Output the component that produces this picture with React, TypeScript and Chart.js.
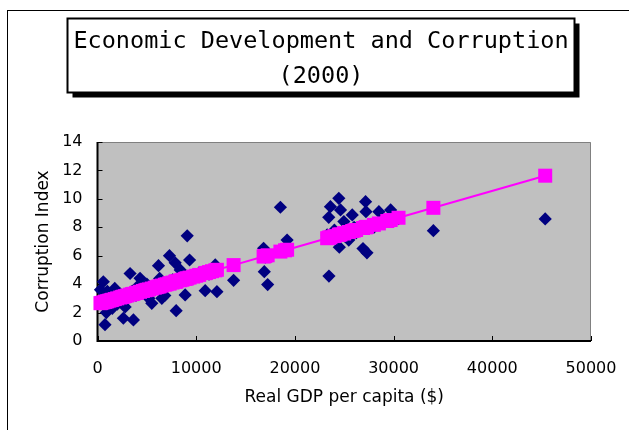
import { useEffect, useRef } from "react";
import { Chart, registerables } from "chart.js";

Chart.register(...registerables);

// Real GDP per capita ($), sorted ascending
const gdp = [
  300, 400, 590, 760, 900, 1000, 1200, 1400, 1500, 1750,
  2000, 2300, 2500, 2620, 2800, 3000, 3300, 3500, 3640, 3900,
  4000, 4310, 4600, 4850, 5000, 5200, 5500, 5800, 6000, 6180,
  6300, 6520, 6820, 7000, 7290, 7300, 7600, 7870, 7970, 8000,
  8380, 8600, 8880, 9000, 9090, 9330, 9700, 10000, 10300, 10910,
  11000, 11300, 11600, 11930, 12100, 13790, 16830, 16900, 17000, 17240,
  18530, 19000, 19210, 23270, 23430, 23450, 23600, 24000, 24450, 24500,
  24620, 24960, 25000, 25460, 25810, 26000, 26200, 26900, 27160, 27200,
  27300, 28000, 28510, 29360, 29700, 30500, 34030, 45360,
];

// Corruption index (observed)
const corruption = [
  3.6, 2.8, 4.17, 1.15, 2.0, 3.5, 3.0, 2.7, 2.3, 3.7,
  2.6, 3.3, 3.0, 1.6, 2.4, 3.1, 4.75, 3.5, 1.48, 3.2,
  3.8, 4.41, 3.5, 3.36, 4.0, 3.0, 2.65, 3.6, 3.9, 5.3,
  4.4, 3.0, 3.2, 4.0, 6.0, 4.1, 4.3, 5.5, 2.13, 4.2,
  5.0, 4.5, 3.24, 4.5, 7.4, 5.7, 4.6, 4.6, 4.8, 3.54,
  4.8, 4.7, 4.9, 5.35, 3.47, 4.27, 6.52, 4.88, 5.9, 3.97,
  9.41, 6.3, 7.1, 7.46, 8.7, 4.57, 9.45, 7.8, 10.04, 6.6,
  9.22, 8.4, 7.4, 7.1, 8.87, 8.0, 7.6, 6.5, 9.8, 9.1,
  6.2, 8.0, 9.1, 8.5, 9.22, 8.6, 7.76, 8.59,
];

// Corruption index (fitted line values)
const fitted = [
  2.66, 2.68, 2.72, 2.75, 2.78, 2.8, 2.84, 2.88, 2.9, 2.95,
  3.0, 3.06, 3.1, 3.12, 3.16, 3.2, 3.26, 3.3, 3.32, 3.38,
  3.4, 3.46, 3.52, 3.57, 3.6, 3.63, 3.69, 3.75, 3.79, 3.83,
  3.85, 3.9, 3.96, 3.99, 4.05, 4.05, 4.11, 4.17, 4.19, 4.19,
  4.27, 4.31, 4.37, 4.39, 4.41, 4.46, 4.53, 4.59, 4.65, 4.77,
  4.79, 4.85, 4.91, 4.97, 5.01, 5.34, 5.95, 5.96, 5.98, 6.03,
  6.29, 6.38, 6.42, 7.23, 7.26, 7.27, 7.3, 7.38, 7.47, 7.48,
  7.5, 7.57, 7.58, 7.67, 7.74, 7.77, 7.81, 7.95, 8.0, 8.01,
  8.03, 8.17, 8.27, 8.44, 8.51, 8.67, 9.37, 11.63,
];

const xTickValues = [0, 10000, 20000, 30000, 40000, 50000];
const xTickLabels = ["0", "10000", "20000", "30000", "40000", "50000"];
const yTickValues = [0, 2, 4, 6, 8, 10, 12, 14];
const yTickLabels = ["0", "2", "4", "6", "8", "10", "12", "14"];

const titleLines = ["Economic Development and Corruption", "(2000)"];
const xAxisTitle = "Real GDP per capita ($)";
const yAxisTitle = "Corruption Index";

const framePlugin = {
  id: "frame",
  beforeDraw(chart: any) {
    const { ctx, width, height, chartArea: a } = chart;
    ctx.save();
    ctx.fillStyle = "#ffffff";
    ctx.fillRect(0, 0, width, height);

    // outer frame
    ctx.strokeStyle = "#000000";
    ctx.lineWidth = 1;
    ctx.strokeRect(7.5, 10.5, width + 20, height + 20);

    // title box with shadow
    const bx = 67.5, by = 18.5, bw = 507, bh = 74;
    ctx.fillStyle = "#000000";
    ctx.fillRect(bx + 5, by + 5, bw, bh);
    ctx.fillStyle = "#ffffff";
    ctx.fillRect(bx, by, bw, bh);
    ctx.strokeStyle = "#000000";
    ctx.lineWidth = 2;
    ctx.strokeRect(bx, by, bw, bh);
    ctx.fillStyle = "#000000";
    ctx.font = "23.5px 'DejaVu Sans Mono'";
    ctx.textAlign = "center";
    ctx.textBaseline = "alphabetic";
    ctx.fillText(titleLines[0], bx + bw / 2, 48);
    ctx.fillText(titleLines[1], bx + bw / 2, 83);

    // plot area
    ctx.fillStyle = "#c0c0c0";
    ctx.fillRect(a.left, a.top, a.right - a.left, a.bottom - a.top);
    ctx.strokeStyle = "#808080";
    ctx.lineWidth = 1;
    ctx.beginPath();
    ctx.moveTo(a.left, a.top + 0.5);
    ctx.lineTo(a.right - 0.5, a.top + 0.5);
    ctx.lineTo(a.right - 0.5, a.bottom);
    ctx.stroke();

    // axis lines
    ctx.strokeStyle = "#000000";
    ctx.lineWidth = 2;
    ctx.beginPath();
    ctx.moveTo(a.left, a.top);
    ctx.lineTo(a.left, a.bottom);
    ctx.lineTo(a.right, a.bottom);
    ctx.stroke();

    // inside tick marks
    const xs = chart.scales.x;
    const ys = chart.scales.y;
    ctx.lineWidth = 1;
    ctx.beginPath();
    xs.ticks.forEach((t: any) => {
      const px = Math.round(xs.getPixelForValue(t.value)) + 0.5;
      ctx.moveTo(px, a.bottom);
      ctx.lineTo(px, a.bottom - 5);
    });
    ys.ticks.forEach((t: any) => {
      const py = Math.round(ys.getPixelForValue(t.value)) + 0.5;
      ctx.moveTo(a.left, py);
      ctx.lineTo(a.left + 5, py);
    });
    ctx.stroke();
    ctx.restore();
  },
};

export default function App() {
  const ref = useRef<HTMLCanvasElement | null>(null);

  useEffect(() => {
    if (!ref.current) return;
    const chart = new Chart(ref.current, {
      type: "scatter",
      data: {
        datasets: [
          {
            label: "Fitted",
            data: gdp.map((x, i) => ({ x, y: fitted[i] })),
            showLine: true,
            borderColor: "#ff00ff",
            borderWidth: 2,
            pointStyle: "rect",
            pointRadius: 9.9,
            pointHoverRadius: 9.9,
            pointBackgroundColor: "#ff00ff",
            pointBorderColor: "#ff00ff",
            pointBorderWidth: 0,
            clip: false,
          } as any,
          {
            label: "Corruption Index",
            data: gdp.map((x, i) => ({ x, y: corruption[i] })),
            pointStyle: "rectRot",
            pointRadius: 6.6,
            pointHoverRadius: 6.6,
            backgroundColor: "#000080",
            borderColor: "#000080",
            borderWidth: 0,
            clip: false,
          } as any,
        ],
      },
      options: {
        animation: false,
        responsive: false,
        devicePixelRatio: 1,
        events: [],
        layout: { padding: { top: 142, right: 38, left: 0, bottom: 0 } },
        plugins: {
          legend: { display: false },
          tooltip: { enabled: false },
          title: { display: false },
        },
        scales: {
          x: {
            type: "linear",
            min: 0,
            max: 50000,
            afterBuildTicks: (s: any) => {
              s.ticks = xTickValues.map((v) => ({ value: v }));
            },
            afterFit: (s: any) => {
              s.height = 89;
              s.paddingLeft = 0;
              s.paddingRight = 0;
            },
            grid: { display: false, drawTicks: false },
            border: { display: false },
            ticks: {
              padding: 18,
              color: "#000000",
              font: { family: "'DejaVu Sans'", size: 16 },
              maxRotation: 0,
              autoSkip: false,
              callback: (v: any) => xTickLabels[xTickValues.indexOf(Number(v))] ?? "",
            },
            title: {
              display: true,
              text: xAxisTitle,
              color: "#000000",
              font: { family: "'DejaVu Sans'", size: 17 },
              padding: { top: 0, bottom: 22 },
            },
          },
          y: {
            type: "linear",
            min: 0,
            max: 14,
            afterBuildTicks: (s: any) => {
              s.ticks = yTickValues.map((v) => ({ value: v }));
            },
            afterFit: (s: any) => {
              s.width = 97.5;
            },
            grid: { display: false, drawTicks: false },
            border: { display: false },
            ticks: {
              padding: 15,
              color: "#000000",
              font: { family: "'DejaVu Sans'", size: 16 },
              autoSkip: false,
              callback: (v: any) => yTickLabels[yTickValues.indexOf(Number(v))] ?? "",
            },
            title: {
              display: true,
              text: yAxisTitle,
              color: "#000000",
              font: { family: "'DejaVu Sans'", size: 17 },
              padding: { top: 33, bottom: 0 },
            },
          },
        },
      },
      plugins: [framePlugin],
    });
    return () => chart.destroy();
  }, []);

  return (
    <canvas
      ref={ref}
      width={629}
      height={430}
      style={{ position: "fixed", left: 0, top: 0, width: 629, height: 430 }}
    />
  );
}
